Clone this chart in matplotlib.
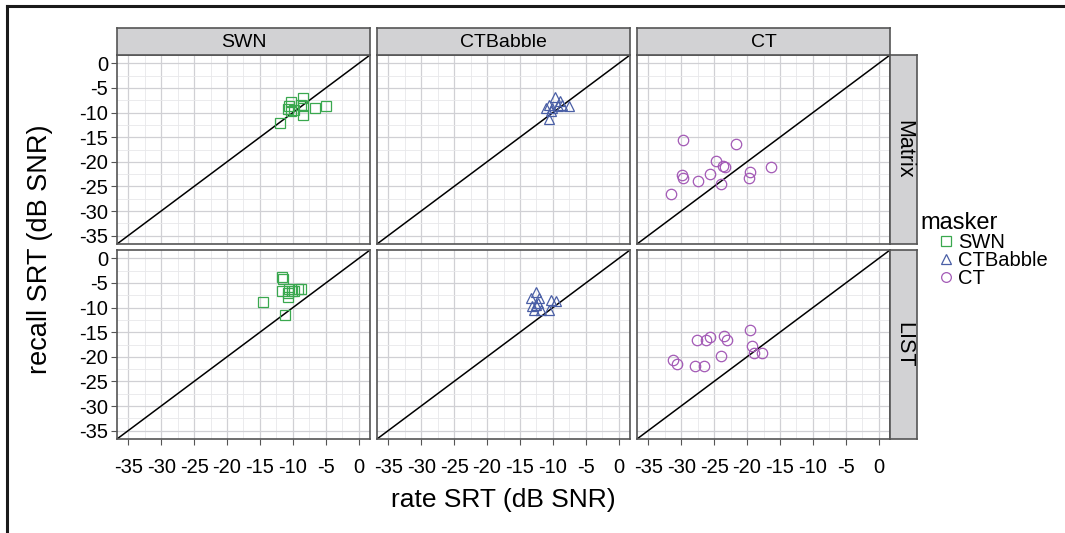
'''Recall SRT vs rate SRT, faceted by masker and test'''

import matplotlib
matplotlib.use('Agg')
import matplotlib.pyplot as plt
from matplotlib.lines import Line2D

plt.rcParams['font.family'] = ['Liberation Sans', 'DejaVu Sans']

maskers = ['SWN', 'CTBabble', 'CT']
tests = ['Matrix', 'LIST']
colors = {'SWN': '#3aa84f', 'CTBabble': '#4a5fa6', 'CT': '#a35ab6'}
markers = {'SWN': 's', 'CTBabble': '^', 'CT': 'o'}
ticks = [-35, -30, -25, -20, -15, -10, -5, 0]

# rate SRT (x) and recall SRT (y), dB SNR
swn_matrix_rate = [-11.9, -10.6, -10.3, -10.3, -10.7, -8.4, -8.4, -8.4, -6.6, -5.0, -9.8, -8.8]
swn_matrix_recall = [-12.1, -8.7, -7.9, -9.7, -9.2, -7.0, -8.7, -10.4, -9.0, -8.6, -9.4, -8.4]
ctb_matrix_rate = [-9.7, -10.6, -10.2, -9.0, -8.6, -7.6, -10.6, -10.3, -9.3, -11.1]
ctb_matrix_recall = [-6.8, -8.4, -9.0, -7.7, -8.4, -8.6, -11.4, -9.7, -8.7, -9.0]
ct_matrix_rate = [-29.7, -21.6, -24.7, -23.7, -23.3, -29.9, -29.7, -27.5, -25.6, -23.9,
                  -19.5, -19.7, -16.4, -31.5]
ct_matrix_recall = [-15.5, -16.3, -19.9, -20.9, -21.1, -22.6, -23.3, -23.8, -22.4, -24.5,
                    -22.1, -23.3, -21.1, -26.6]

swn_list_rate = [-11.7, -11.5, -14.5, -11.2, -11.6, -10.8, -10.6, -9.8, -9.3, -8.7, -10.8, -10.1]
swn_list_recall = [-3.7, -4.1, -8.9, -11.6, -6.7, -7.0, -6.3, -6.7, -6.3, -6.3, -7.8, -6.7]
ctb_list_rate = [-12.5, -13.4, -12.1, -12.6, -12.9, -11.8, -10.6, -10.3, -9.6, -12.3, -13.1]
ctb_list_recall = [-6.9, -8.0, -8.0, -9.4, -10.4, -10.4, -10.4, -8.4, -8.7, -9.0, -9.7]
ct_list_rate = [-31.2, -30.6, -27.9, -26.5, -27.6, -26.2, -25.6, -23.5, -23.1, -23.9,
                -19.5, -19.3, -19.0, -17.8]
ct_list_recall = [-20.6, -21.4, -21.9, -21.9, -16.6, -16.6, -16.0, -15.8, -16.6, -19.9,
                  -14.6, -17.9, -19.2, -19.2]

data = {
    ('Matrix', 'SWN'): (swn_matrix_rate, swn_matrix_recall),
    ('Matrix', 'CTBabble'): (ctb_matrix_rate, ctb_matrix_recall),
    ('Matrix', 'CT'): (ct_matrix_rate, ct_matrix_recall),
    ('LIST', 'SWN'): (swn_list_rate, swn_list_recall),
    ('LIST', 'CTBabble'): (ctb_list_rate, ctb_list_recall),
    ('LIST', 'CT'): (ct_list_rate, ct_list_recall),
}

W, H = 1065, 533
fig = plt.figure(figsize=(W / 100, H / 100), dpi=100)

col_x = [117, 377, 637]
row_y = [55, 250]
pw, ph = 253, 189
lims = (-36.7, 1.7)
strip_fill = '#d2d2d4'
edge = '#555555'


def px_rect(x0, y0, w, h):
    return [x0 / W, 1 - (y0 + h) / H, w / W, h / H]


def strip_axes(rect):
    sax = fig.add_axes(rect)
    sax.set_xticks([])
    sax.set_yticks([])
    sax.set_facecolor(strip_fill)
    for s in sax.spines.values():
        s.set_color(edge)
        s.set_linewidth(1.2)
    return sax


minor = [t + 2.5 for t in ticks[:-1]]

for r, test in enumerate(tests):
    for c, masker in enumerate(maskers):
        ax = fig.add_axes(px_rect(col_x[c], row_y[r], pw, ph))
        ax.set_xlim(lims)
        ax.set_ylim(lims)
        ax.set_xticks(ticks)
        ax.set_yticks(ticks)
        ax.set_xticks(minor, minor=True)
        ax.set_yticks(minor, minor=True)
        ax.grid(which='major', color='#d0d0d4', lw=0.9)
        ax.grid(which='minor', color='#e8e8ea', lw=0.6)
        ax.set_axisbelow(True)
        for s in ax.spines.values():
            s.set_color(edge)
            s.set_linewidth(1.2)
        ax.tick_params(which='minor', length=0)
        ax.tick_params(which='major', length=4, width=0.8, color=edge,
                       labelsize=14.5)
        ax.tick_params(axis='x', pad=10)
        ax.tick_params(axis='y', pad=2.5)
        ax.tick_params(labelleft=(c == 0), left=(c == 0),
                       labelbottom=(r == 1), bottom=(r == 1))
        ax.set_xticklabels([str(t) for t in ticks])
        ax.set_yticklabels([str(t) for t in ticks])
        ax.axline((0, 0), slope=1, color='black', lw=1.1, zorder=2)
        x, y = data[(test, masker)]
        ax.plot(x, y, ls='none', marker=markers[masker], mfc='none',
                mec=colors[masker], ms=7.5, mew=0.9, zorder=3)

        if r == 0:
            sax = strip_axes(px_rect(col_x[c], 28, pw, 27))
            sax.text(0.5, 0.45, masker, ha='center', va='center', fontsize=14,
                     transform=sax.transAxes)
        if c == 2:
            sax = strip_axes(px_rect(890, row_y[r], 27, ph))
            sax.text(0.5, 0.5, test, ha='center', va='center', fontsize=15.5,
                     rotation=-90, transform=sax.transAxes)

fig.text(40 / W, 1 - 249 / H, 'recall SRT (dB SNR)', rotation=90,
         ha='center', va='center', fontsize=19.5)
fig.text(503 / W, 1 - 500 / H, 'rate SRT (dB SNR)', ha='center', va='center',
         fontsize=19)

# legend: title drawn separately so the keys sit indented under it
fig.text(920 / W, 1 - 229 / H, 'masker', ha='left', va='baseline', fontsize=17)
handles = [Line2D([], [], ls='none', marker=markers[m], mfc='none',
                  mec=colors[m], ms=7, mew=0.9) for m in maskers]
fig.legend(handles, maskers, loc='upper left',
           bbox_to_anchor=(938 / W, 1 - 233 / H), frameon=False,
           fontsize=14.5, handlelength=0.8, handletextpad=0.2,
           labelspacing=-0.05, borderpad=0, borderaxespad=0)

# frame around the figure (left and top edges)
fig.add_artist(Line2D([7 / W, 7 / W], [0, 1 - 6 / H], color='#1a1a1a', lw=2.2,
                      transform=fig.transFigure))
fig.add_artist(Line2D([7 / W, 1], [1 - 6 / H, 1 - 6 / H], color='#1a1a1a', lw=2.2,
                      transform=fig.transFigure))

fig.savefig('out.png', dpi=100)
